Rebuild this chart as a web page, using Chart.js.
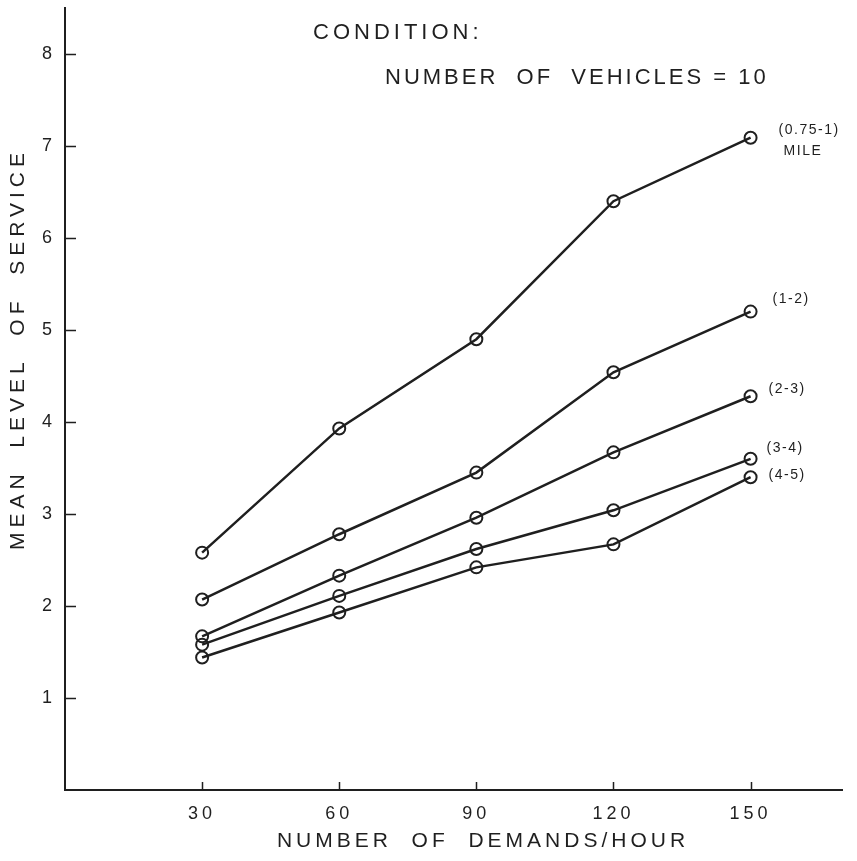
<!DOCTYPE html>
<html>
<head>
<meta charset="utf-8">
<title>Mean level of service</title>
<script src="https://cdn.jsdelivr.net/npm/chart.js@4.4.1/dist/chart.umd.min.js"></script>
<style>
  html, body { margin: 0; padding: 0; background: #fff; }
  canvas { display: block; }
</style>
</head>
<body>
<canvas id="serviceChart" width="857" height="861"></canvas>
<script>
// values
const demands = [30, 60, 90, 120, 150];
const seriesNames = ['(0.75-1)', '(1-2)', '(2-3)', '(3-4)', '(4-5)'];
const dist075to1 = [2.58, 3.93, 4.90, 6.40, 7.09];
const dist1to2 = [2.07, 2.78, 3.45, 4.54, 5.20];
const dist2to3 = [1.67, 2.33, 2.96, 3.67, 4.28];
const dist3to4 = [1.58, 2.11, 2.62, 3.04, 3.60];
const dist4to5 = [1.44, 1.93, 2.42, 2.67, 3.40];
const xTicks = [30, 60, 90, 120, 150];
const yTicks = [1, 2, 3, 4, 5, 6, 7, 8];

const ink = '#1f1f1f';
const fontName = '"Liberation Sans", Arial, sans-serif';

// label offsets from the last point of each line
const labelOffsets = [[28, -8], [22, -12], [18, -7], [16, -11], [18, -2]];

const allSeries = [dist075to1, dist1to2, dist2to3, dist3to4, dist4to5];

const datasets = allSeries.map(function(vals, i) {
    return {
        label: seriesNames[i],
        data: demands.map(function(d, j) { return { x: d, y: vals[j] }; }),
        borderColor: ink,
        borderWidth: 2.5,
        pointRadius: 6,
        pointBorderWidth: 2,
        pointBackgroundColor: 'rgba(0,0,0,0)',
        pointBorderColor: ink,
        tension: 0
    };
});

const paperText = {
    id: 'paperText',
    beforeDraw(chart) {
        chart.ctx.letterSpacing = '4px';
    },
    afterDraw(chart) {
        const ctx = chart.ctx;
        const xs = chart.scales.x;
        const ys = chart.scales.y;

        // inward tick marks
        ctx.save();
        ctx.strokeStyle = ink;
        ctx.lineWidth = 1.5;
        ctx.beginPath();
        yTicks.forEach(function(v) {
            const y = Math.round(ys.getPixelForValue(v)) + 0.5;
            ctx.moveTo(xs.left, y);
            ctx.lineTo(xs.left + 11, y);
        });
        xTicks.forEach(function(v) {
            const x = Math.round(xs.getPixelForValue(v)) + 0.5;
            ctx.moveTo(x, ys.bottom);
            ctx.lineTo(x, ys.bottom - 8);
        });
        ctx.stroke();
        ctx.restore();

        ctx.save();
        ctx.fillStyle = ink;
        ctx.textBaseline = 'middle';
        ctx.letterSpacing = '4px';
        ctx.font = '22px ' + fontName;
        ctx.textAlign = 'left';
        ctx.fillText('CONDITION:', 313, 33);
        ctx.letterSpacing = '3px';
        ctx.fillText('NUMBER  OF  VEHICLES = 10', 385, 78);

        ctx.font = '21px ' + fontName;
        ctx.textAlign = 'center';
        ctx.letterSpacing = '4px';
        ctx.fillText('NUMBER  OF  DEMANDS/HOUR', 483, 841);
        ctx.letterSpacing = '5px';
        ctx.translate(18, 349);
        ctx.rotate(-Math.PI / 2);
        ctx.fillText('MEAN  LEVEL  OF  SERVICE', 0, 0);
        ctx.restore();

        // curve labels next to the last points
        ctx.save();
        ctx.fillStyle = ink;
        ctx.textBaseline = 'middle';
        ctx.textAlign = 'left';
        ctx.letterSpacing = '1.5px';
        ctx.font = '14px ' + fontName;
        chart.data.datasets.forEach(function(ds, i) {
            const pts = chart.getDatasetMeta(i).data;
            const p = pts[pts.length - 1];
            const off = labelOffsets[i];
            ctx.fillText(ds.label, p.x + off[0], p.y + off[1]);
            if (i === 0) {
                ctx.fillText('MILE', p.x + off[0] + 5, p.y + off[1] + 21);
            }
        });
        ctx.restore();
    }
};

document.addEventListener("DOMContentLoaded", function() {
    Chart.defaults.font.family = fontName;
    Chart.defaults.color = ink;

    const ctx = document.getElementById('serviceChart').getContext('2d');
    const serviceChart = new Chart(ctx, {
        type: 'line',
        data: { datasets: datasets },
        options: {
            responsive: false,
            animation: false,
            layout: { padding: { top: 6, right: 15, left: 0, bottom: 0 } },
            plugins: {
                legend: { display: false },
                tooltip: { enabled: false }
            },
            scales: {
                x: {
                    type: 'linear',
                    min: 0,
                    max: 170,
                    afterBuildTicks: function(scale) {
                        scale.ticks = xTicks.map(function(v) { return { value: v }; });
                    },
                    afterFit: function(scale) { scale.height = 71; },
                    grid: { drawOnChartArea: false, drawTicks: false },
                    border: { color: ink, width: 2 },
                    ticks: { padding: 13, font: { size: 18 }, maxRotation: 0, color: ink }
                },
                y: {
                    min: 0,
                    max: 8.5,
                    afterBuildTicks: function(scale) {
                        scale.ticks = yTicks.map(function(v) { return { value: v }; });
                    },
                    afterFit: function(scale) {
                        scale.width = 65;
                        scale.paddingTop = 0;
                        scale.paddingBottom = 0;
                    },
                    grid: { drawOnChartArea: false, drawTicks: false },
                    border: { color: ink, width: 2 },
                    ticks: { padding: 9, font: { size: 18 }, color: ink }
                }
            }
        },
        plugins: [paperText]
    });
});
</script>
</body>
</html>
